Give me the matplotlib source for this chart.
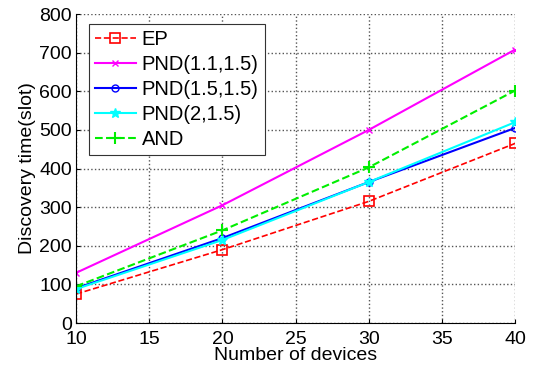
import matplotlib.pyplot as plt

plt.rcParams['font.family'] = ['Liberation Sans', 'DejaVu Sans']

devices = [10, 20, 30, 40]
ep = [75, 190, 315, 465]
pnd_11 = [130, 305, 500, 708]
pnd_15 = [90, 220, 365, 505]
pnd_2 = [88, 215, 365, 520]
and_vals = [95, 240, 403, 602]

fig = plt.figure(figsize=(5.36, 3.7), dpi=100)
ax = fig.add_axes([0.142, 0.127, 0.819, 0.835])

ax.plot(devices, ep, '--s', color='red', lw=1.2, ms=7, mfc='none', mew=1.2, label='EP')
ax.plot(devices, pnd_11, '-x', color='magenta', lw=1.5, ms=5, label='PND(1.1,1.5)')
ax.plot(devices, pnd_15, '-o', color='blue', lw=1.5, ms=5, mfc='none', label='PND(1.5,1.5)')
ax.plot(devices, pnd_2, '-*', color='cyan', lw=1.5, ms=7, label='PND(2,1.5)')
ax.plot(devices, and_vals, '--+', color='#00ee00', lw=1.5, ms=8, mew=1.5, label='AND')

ax.set_xlim(10, 40)
ax.set_ylim(0, 800)
ax.set_xticks(range(10, 41, 5))
ax.set_yticks(range(0, 801, 100))
ax.grid(True, linestyle=':', color='#555555', lw=1)
ax.spines['top'].set_visible(False)
ax.spines['right'].set_visible(False)
ax.tick_params(labelsize=14, direction='in', length=3)
ax.tick_params(axis='x', pad=6)
ax.tick_params(axis='y', pad=3)
for lbl in ax.get_yticklabels():
    lbl.set_verticalalignment('center_baseline')
ax.set_xlabel('Number of devices', fontsize=14, labelpad=-1)
ax.set_ylabel('Discovery time(slot)', fontsize=14, labelpad=2)

leg = ax.legend(loc='upper left', bbox_to_anchor=(0.03, 0.968), fontsize=14.5,
                fancybox=False, framealpha=1, edgecolor='#333333',
                handlelength=2.0, borderpad=0.3, labelspacing=0.3, handletextpad=0.3,
                borderaxespad=0)
leg.get_frame().set_linewidth(0.8)

fig.savefig('out.png', dpi=100)
